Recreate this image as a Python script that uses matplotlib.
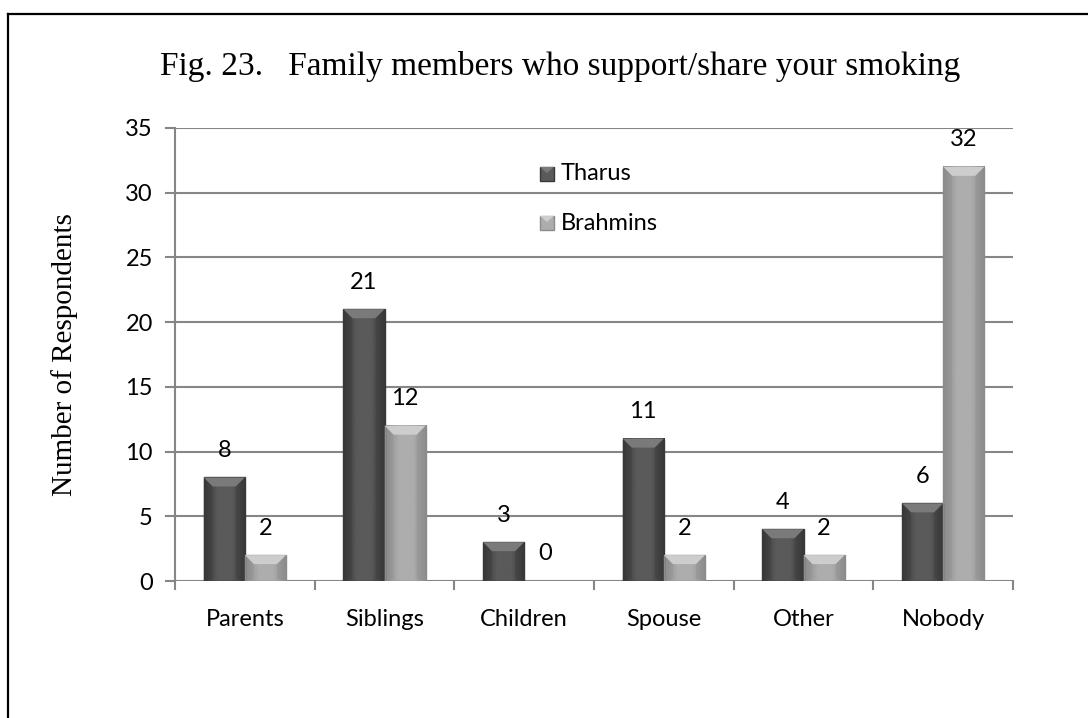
import numpy as np
import matplotlib
matplotlib.use("Agg")
import matplotlib.pyplot as plt
from matplotlib.patches import Polygon, Rectangle
from matplotlib.lines import Line2D
from matplotlib.colors import LinearSegmentedColormap

categories = ["Parents", "Siblings", "Children", "Spouse", "Other", "Nobody"]
tharus = [8, 21, 3, 11, 4, 6]
brahmins = [2, 12, 0, 2, 2, 32]
series_names = ["Tharus", "Brahmins"]
yticks = [0, 5, 10, 15, 20, 25, 30, 35]

# base / edge / bevel-top shades for each series
shades = {
    "Tharus": ("#5a5a5a", "#383838", "#7a7a7a"),
    "Brahmins": ("#adadad", "#8c8c8c", "#cdcdcd"),
}

W, H, DPI = 1088, 718, 100
fig = plt.figure(figsize=(W / DPI, H / DPI), dpi=DPI)
ax = fig.add_axes([175 / W, 1 - 581 / H, (1013 - 175) / W, (581 - 128) / H])

ymax = 35
ax.set_xlim(-0.5, len(categories) - 0.5)
ax.set_ylim(0, ymax)

grid_c = "#868686"
for s in ax.spines.values():
    s.set_visible(False)
ax.set_yticks(yticks)
for v in yticks:
    ax.axhline(v, color=grid_c, lw=1.5, zorder=1)
ax.plot([-0.5, -0.5], [0, ymax], color=grid_c, lw=1.5, clip_on=False, zorder=1)
ax.tick_params(axis="y", length=0, pad=16)
ax.tick_params(axis="x", length=0, pad=20)
ax.set_xticks(range(len(categories)))
ax.set_xticklabels(categories)

lab_font = dict(family=["Lato", "DejaVu Sans"], size=17)
for t in ax.get_xticklabels() + ax.get_yticklabels():
    t.set_fontfamily(["Lato", "DejaVu Sans"])
    t.set_fontsize(17)

# small tick marks: y ticks to the left, x ticks at category boundaries
for v in yticks:
    ax.plot([-0.5 - 0.065, -0.5], [v, v], color=grid_c, lw=1.5, clip_on=False)
for b in np.arange(-0.5, len(categories), 1.0):
    ax.plot([b, b], [0, -0.65], color=grid_c, lw=1.5, clip_on=False)

px_x = (1013 - 175) / len(categories)   # pixels per category
px_y = (581 - 128) / ymax               # pixels per unit
bev_x = 9 / px_x
bev_y = 9 / px_y

bar_w = 0.295


def draw_bar(x0, h, name):
    if h <= 0:
        return
    base, edge, top = shades[name]
    cmap = LinearSegmentedColormap.from_list(name, [edge, base, base, edge])
    grad = np.linspace(0, 1, 64).reshape(1, -1)
    ax.imshow(grad, cmap=cmap, extent=(x0, x0 + bar_w, 0, h),
              aspect="auto", zorder=3, interpolation="bilinear")
    ax.add_patch(Rectangle((x0, 0), bar_w, h, fill=False,
                           edgecolor=edge, lw=1, zorder=4))
    by = min(bev_y, h * 0.45)
    bx = min(bev_x, bar_w * 0.3)
    # bevelled top face
    ax.add_patch(Polygon([(x0, h), (x0 + bar_w, h), (x0 + bar_w - bx, h - by),
                          (x0 + bx, h - by)], closed=True,
                         facecolor=top, edgecolor="none", zorder=4))
    ax.add_patch(Polygon([(x0, h), (x0 + bx, h - by), (x0 + bx, by * 0.3),
                          (x0, 0)], closed=True,
                         facecolor=edge, edgecolor="none", alpha=0.35, zorder=4))
    ax.add_patch(Polygon([(x0 + bar_w, h), (x0 + bar_w - bx, h - by),
                          (x0 + bar_w - bx, by * 0.3), (x0 + bar_w, 0)], closed=True,
                         facecolor=edge, edgecolor="none", alpha=0.35, zorder=4))


label_off = 27 / px_y
for i, (a, b) in enumerate(zip(tharus, brahmins)):
    draw_bar(i - bar_w, a, "Tharus")
    draw_bar(i, b, "Brahmins")
    ax.text(i - bar_w / 2, a + label_off, str(a), ha="center", va="center", **lab_font)
    ax.text(i + bar_w / 2, b + label_off, str(b), ha="center", va="center", **lab_font)

# legend
for k, name in enumerate(series_names):
    base, edge, top = shades[name]
    ly = 1 - (174 + k * 49) / H
    fig.patches.append(Rectangle((540 / W, ly - 7 / H), 14 / W, 14 / H,
                                 transform=fig.transFigure, facecolor=base,
                                 edgecolor=edge, lw=1))
    fig.patches.append(Polygon([(540 / W, ly + 7 / H), (554 / W, ly + 7 / H),
                                (547 / W, ly + 1 / H)], closed=True,
                               transform=fig.transFigure, facecolor=top,
                               edgecolor="none"))
    fig.text(561 / W, ly, name, ha="left", va="center", **lab_font)

serif = ["Liberation Serif", "DejaVu Serif"]
fig.text(560 / W, 1 - 67 / H, "Fig. 23.   Family members who support/share your smoking",
         ha="center", va="center", family=serif, size=24)
fig.text(65 / W, 1 - 355 / H, "Number of Respondents", rotation=90,
         ha="center", va="center", family=serif, size=21)

# frame around the figure (left and top edges visible)
fig.lines.append(Line2D([8 / W, 8 / W], [0, 1 - 14 / H], transform=fig.transFigure,
                        color="black", lw=1.6))
fig.lines.append(Line2D([8 / W, 1], [1 - 14 / H, 1 - 14 / H], transform=fig.transFigure,
                        color="black", lw=1.6))

fig.savefig("out.png", dpi=DPI)
